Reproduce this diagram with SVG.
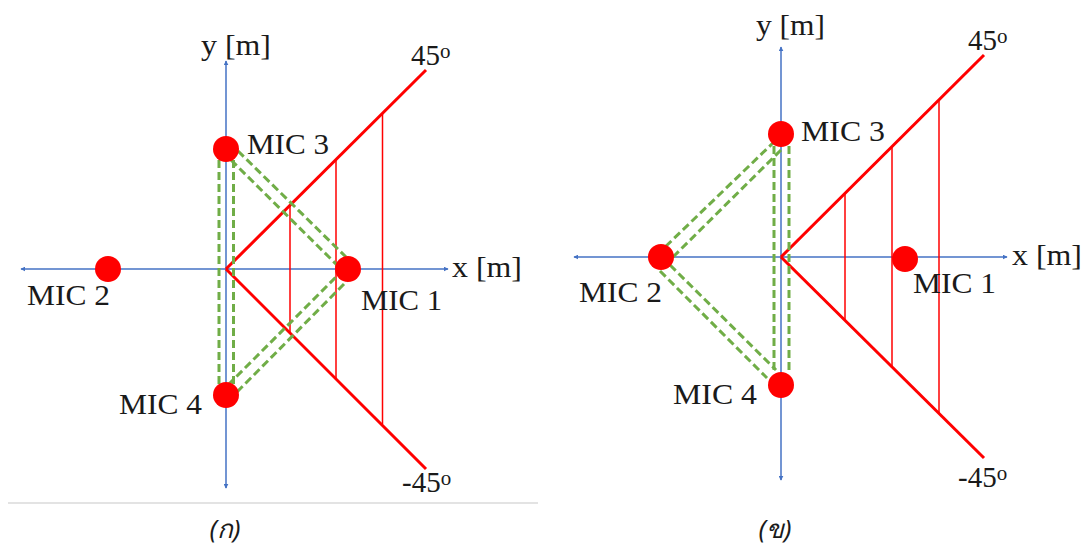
<svg xmlns="http://www.w3.org/2000/svg" width="1088" height="549" viewBox="0 0 1088 549">
<defs>
<marker id="ah" viewBox="0 0 8 8" refX="7" refY="4" markerWidth="5" markerHeight="5" orient="auto-start-reverse" markerUnits="userSpaceOnUse">
<path d="M0,0 L8,4 L0,8 z" fill="#4472C4"/>
</marker>
<style>
.axis{stroke:#4472C4;stroke-width:1.5;fill:none;marker-start:url(#ah);marker-end:url(#ah)}
.ray{stroke:#FF0000;stroke-width:3;fill:none}
.tick{stroke:#FF0000;stroke-width:1.5;fill:none}
.link{stroke:#70AD47;stroke-width:3;stroke-dasharray:8 4;fill:none}
.mic{fill:#FF0000}
.t{font-family:"Liberation Serif","Times New Roman",serif;font-size:29px;fill:#1a1a1a}
.sup{font-size:21px}
.cap{font-family:"Noto Sans","DejaVu Sans",sans-serif;font-style:italic;font-size:26px;fill:#1a1a1a}
</style>
</defs>
<rect width="1088" height="549" fill="#ffffff"/>
<line x1="8" y1="503" x2="538" y2="503" stroke="#e3e3e3" stroke-width="2"/>

<!-- Left panel -->
<g id="axes-left">
<line class="axis" x1="226" y1="488" x2="226" y2="61"/>
<line class="axis" x1="21" y1="269" x2="448" y2="269"/>
<text class="t" x="201" y="55" textLength="70" lengthAdjust="spacingAndGlyphs">y [m]</text>
<text class="t" x="452" y="277" textLength="70" lengthAdjust="spacingAndGlyphs">x [m]</text>
</g>
<g id="rays-left">
<line class="ray" x1="226" y1="269" x2="426" y2="70"/>
<line class="ray" x1="226" y1="269" x2="426" y2="469"/>
<line class="tick" x1="290" y1="205.3" x2="290" y2="333"/>
<line class="tick" x1="336" y1="159.5" x2="336" y2="379"/>
<line class="tick" x1="382.5" y1="113.3" x2="382.5" y2="424"/>
<text class="t" x="411" y="65">45<tspan class="sup" dy="-7">o</tspan></text>
<text class="t" x="402" y="492">-45<tspan class="sup" dy="-7">o</tspan></text>
</g>
<g id="connectors-left">
<line class="link" x1="219" y1="160" x2="219" y2="384"/>
<line class="link" x1="233.5" y1="160" x2="233.5" y2="384"/>
<line class="link" x1="238" y1="151" x2="346" y2="257"/>
<line class="link" x1="231" y1="160" x2="338" y2="266"/>
<line class="link" x1="228" y1="385" x2="337" y2="276"/>
<line class="link" x1="237" y1="392" x2="347" y2="281"/>
</g>
<g id="mic3-left"><circle class="mic" cx="226" cy="149" r="13"/><text class="t" x="247" y="154" textLength="82" lengthAdjust="spacingAndGlyphs">MIC 3</text></g>
<g id="mic2-left"><circle class="mic" cx="108" cy="269" r="13"/><text class="t" x="27" y="305" textLength="83" lengthAdjust="spacingAndGlyphs">MIC 2</text></g>
<g id="mic1-left"><circle class="mic" cx="348" cy="269" r="13"/><text class="t" x="361" y="310" textLength="81" lengthAdjust="spacingAndGlyphs">MIC 1</text></g>
<g id="mic4-left"><circle class="mic" cx="226" cy="395" r="13"/><text class="t" x="119" y="414" textLength="83" lengthAdjust="spacingAndGlyphs">MIC 4</text></g>
<text class="cap" x="225" y="538" text-anchor="middle">(ก)</text>

<!-- Right panel -->
<g id="axes-right">
<line class="axis" x1="781" y1="480" x2="781" y2="47"/>
<line class="axis" x1="574" y1="257" x2="1007" y2="257"/>
<text class="t" x="756" y="35" textLength="69" lengthAdjust="spacingAndGlyphs">y [m]</text>
<text class="t" x="1012" y="265" textLength="70" lengthAdjust="spacingAndGlyphs">x [m]</text>
</g>
<g id="rays-right">
<line class="ray" x1="781" y1="257" x2="984" y2="55"/>
<line class="ray" x1="781" y1="257" x2="984" y2="458"/>
<line class="tick" x1="845" y1="193.3" x2="845" y2="320.4"/>
<line class="tick" x1="892" y1="146.7" x2="892" y2="366.9"/>
<line class="tick" x1="939" y1="99.8" x2="939" y2="413.4"/>
<text class="t" x="968" y="50">45<tspan class="sup" dy="-7">o</tspan></text>
<text class="t" x="958" y="487">-45<tspan class="sup" dy="-7">o</tspan></text>
</g>
<g id="connectors-right">
<line class="link" x1="774" y1="146" x2="774" y2="374"/>
<line class="link" x1="789" y1="146" x2="789" y2="374"/>
<line class="link" x1="775" y1="141" x2="663" y2="249"/>
<line class="link" x1="781" y1="150" x2="673" y2="257"/>
<line class="link" x1="670" y1="265" x2="776" y2="370"/>
<line class="link" x1="660" y1="271" x2="767" y2="378"/>
</g>
<g id="mic3-right"><circle class="mic" cx="781" cy="134" r="13"/><text class="t" x="801" y="141" textLength="84" lengthAdjust="spacingAndGlyphs">MIC 3</text></g>
<g id="mic2-right"><circle class="mic" cx="661" cy="257" r="13"/><text class="t" x="579" y="302" textLength="83" lengthAdjust="spacingAndGlyphs">MIC 2</text></g>
<g id="mic1-right"><circle class="mic" cx="905" cy="259" r="13"/><text class="t" x="913" y="293" textLength="83" lengthAdjust="spacingAndGlyphs">MIC 1</text></g>
<g id="mic4-right"><circle class="mic" cx="781" cy="385" r="13"/><text class="t" x="673" y="404" textLength="84" lengthAdjust="spacingAndGlyphs">MIC 4</text></g>
<text class="cap" x="775" y="538" text-anchor="middle">(ข)</text>
</svg>
